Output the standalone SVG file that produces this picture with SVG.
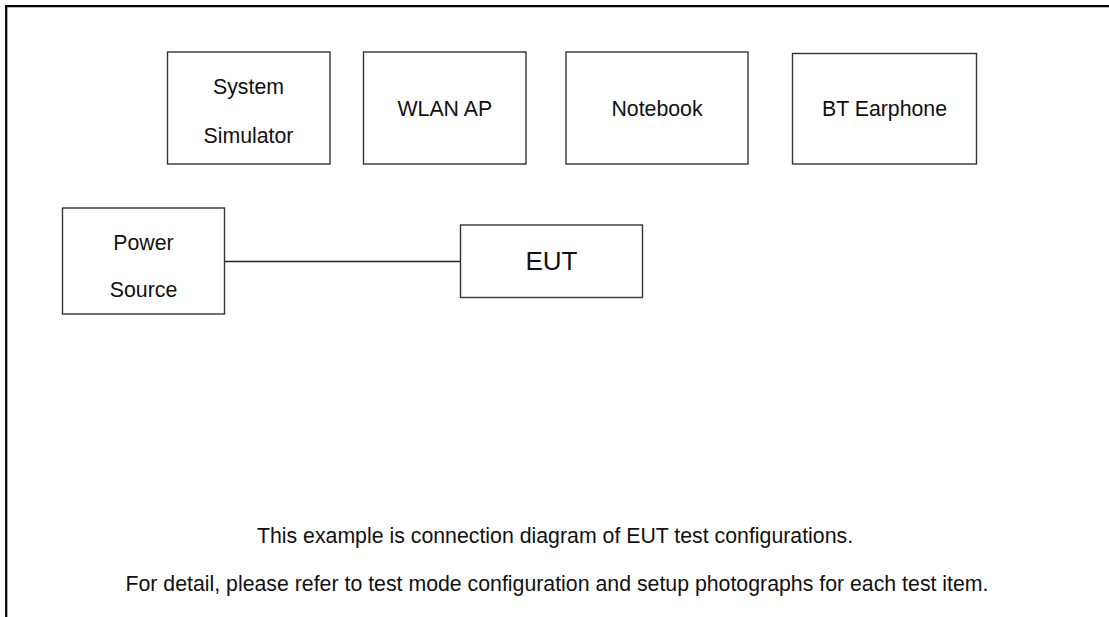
<svg xmlns="http://www.w3.org/2000/svg" width="1109" height="617" viewBox="0 0 1109 617">
<style>
  .box { fill: #ffffff; stroke: #333333; stroke-width: 1.4; }
  .lbl { font-family: "Liberation Sans", Arial, sans-serif; font-size: 21.3px; fill: #111111; text-anchor: middle; }
  .big { font-size: 26px; }
  .frame { stroke: #000000; stroke-width: 2.2; fill: none; }
  .wire { stroke: #222222; stroke-width: 1.6; fill: none; }
</style>
<rect x="0" y="0" width="1109" height="617" fill="#ffffff"/>
<g id="frame">
  <path class="frame" d="M6.2,617 V6.2 H1109"/>
</g>
<g id="connectors">
  <line class="wire" x1="224.5" y1="261.5" x2="460.5" y2="261.5"/>
</g>
<g id="system-simulator">
  <rect class="box" x="167.5" y="52" width="162.5" height="112"/>
  <text class="lbl" x="248.5" y="94.3">System</text>
  <text class="lbl" x="248.5" y="142.7">Simulator</text>
</g>
<g id="wlan-ap">
  <rect class="box" x="363.5" y="52" width="162.5" height="112"/>
  <text class="lbl" x="444.8" y="116">WLAN AP</text>
</g>
<g id="notebook">
  <rect class="box" x="566" y="52" width="182" height="112"/>
  <text class="lbl" x="657" y="116">Notebook</text>
</g>
<g id="bt-earphone">
  <rect class="box" x="792.5" y="53.5" width="184" height="110.5"/>
  <text class="lbl" x="884.5" y="116">BT Earphone</text>
</g>
<g id="power-source">
  <rect class="box" x="62.5" y="208" width="162" height="106"/>
  <text class="lbl" x="143.5" y="250">Power</text>
  <text class="lbl" x="143.5" y="296.7">Source</text>
</g>
<g id="eut">
  <rect class="box" x="460.5" y="225" width="182" height="72.5"/>
  <text class="lbl big" x="551.5" y="269.5">EUT</text>
</g>
<g id="notes">
  <text class="lbl" x="555" y="542.7">This example is connection diagram of EUT test configurations.</text>
  <text class="lbl" x="557" y="591">For detail, please refer to test mode configuration and setup photographs for each test item.</text>
</g>
</svg>
